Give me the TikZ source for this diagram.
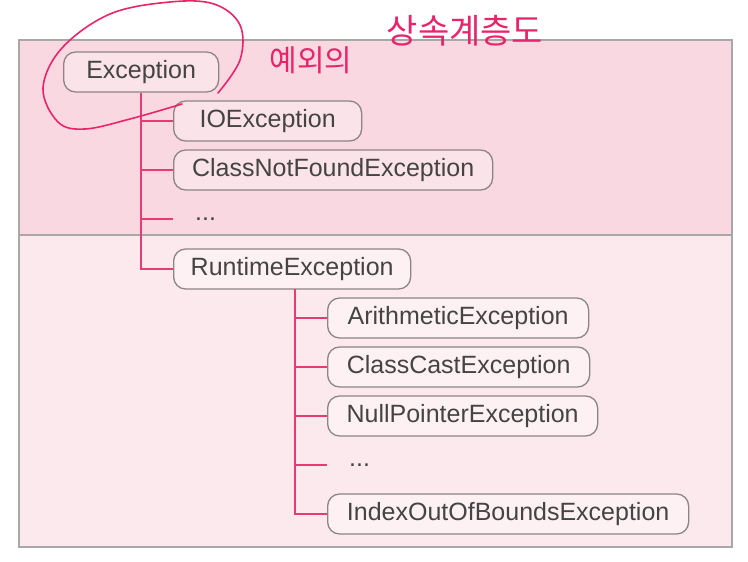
\documentclass[tikz,border=0pt]{standalone}
\usepackage{fontspec}
\setmainfont{Liberation Sans}
\newfontfamily\krfont{Noto Sans CJK KR}
\definecolor{upbg}{HTML}{F9D8E2}
\definecolor{lowbg}{HTML}{FCE9EE}
\definecolor{upnode}{HTML}{FBE3EA}
\definecolor{lownode}{HTML}{FDF1F4}
\definecolor{framegray}{HTML}{A8A8A8}
\definecolor{boxgray}{HTML}{8C8486}
\definecolor{txtgray}{HTML}{444444}
\definecolor{conncol}{HTML}{E63C74}
\definecolor{penred}{HTML}{E8246A}
\begin{document}
\begin{tikzpicture}[x=1pt,y=-1pt,
  exbox/.style={draw=boxgray, line width=1.3pt, rounded corners=12pt,
    minimum height=40pt, inner xsep=0pt, anchor=west,
    font=\fontsize{25}{29}\selectfont, text=txtgray},
  upbox/.style={exbox, fill=upnode},
  lowbox/.style={exbox, fill=lownode},
  dotsn/.style={anchor=west, inner xsep=22pt, inner ysep=0pt,
    font=\fontsize{25}{29}\selectfont, text=txtgray},
  conn/.style={draw=conncol, line width=2pt},
  pen/.style={draw=penred, line width=1.6pt, line cap=round, line join=round}]
\useasboundingbox (0,0) rectangle (748,562);
\fill[white] (0,0) rectangle (748,562);
% panels
\fill[upbg] (19,40) rectangle (732,235);
\fill[lowbg] (19,235) rectangle (732,547);
\draw[framegray, line width=1.5pt] (19,40) rectangle (732,547);
\draw[framegray, line width=1.2pt] (19,235) -- (732,235);
% nodes
\node[upbox, minimum width=155pt] (exc) at (63,72) {Exception};
\node[upbox, minimum width=188pt] (io) at (173,121) {IOException};
\node[upbox, minimum width=319pt] (cnf) at (173,170) {ClassNotFoundException};
\node[dotsn] (d1) at (173,219) {...};
\node[lowbox, minimum width=237pt] (rt) at (173,269) {RuntimeException};
\node[lowbox, minimum width=261pt] (ar) at (327,318) {ArithmeticException};
\node[lowbox, minimum width=262pt] (cc) at (327,367) {ClassCastException};
\node[lowbox, minimum width=270pt] (np) at (327,416) {NullPointerException};
\node[dotsn] (d2) at (327,465) {...};
\node[lowbox, minimum width=361pt] (ib) at (327,514) {IndexOutOfBoundsException};
% connectors
\draw[conn] (exc.south) -- (exc.south |- rt.west) -- (rt.west);
\draw[conn] (exc.south |- io.west) -- (io.west);
\draw[conn] (exc.south |- cnf.west) -- (cnf.west);
\draw[conn] (exc.south |- d1.west) -- (d1.west);
\coordinate (t2) at (295,289);
\draw[conn] (t2) -- (t2 |- ib.west) -- (ib.west);
\draw[conn] (t2 |- ar.west) -- (ar.west);
\draw[conn] (t2 |- cc.west) -- (cc.west);
\draw[conn] (t2 |- np.west) -- (np.west);
\draw[conn] (t2 |- d2.west) -- (d2.west);
% handwritten annotation
\draw[pen] plot[smooth, tension=0.6] coordinates {(218,93) (240,60) (240,25) (214,4) (170,2) (110,14) (62,48) (43,88) (58,122) (85,129) (130,119) (182,104)};
\node[text=penred, font=\krfont\fontsize{30}{34}\selectfont, inner sep=0pt] (ann1) at (311,60) {예외의};
\node[text=penred, font=\krfont\fontsize{34}{38}\selectfont, inner sep=0pt] (ann2) at (465,31) {상속계층도};
\end{tikzpicture}
\end{document}
